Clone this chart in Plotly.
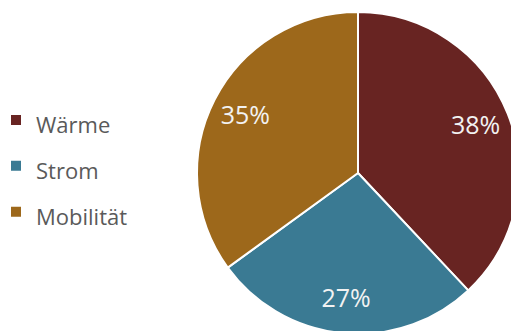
import plotly.graph_objects as go

labels = ["Wärme", "Strom", "Mobilität"]
values = [38, 27, 35]
colors = ["#682422", "#3a7a93", "#9d681b"]

W, H = 530, 345
cx, cy, r = 358, 171, 161
dom = dict(x=[(cx - r) / W, (cx + r) / W], y=[(H - cy - r) / H, (H - cy + r) / H])
cy_pie = 173
dom_pie = dict(x=[(cx - r) / W, (cx + r) / W], y=[(H - cy_pie - r) / H, (H - cy_pie + r) / H])

fig = go.Figure()
fig.add_trace(go.Pie(
    labels=[f"<span style='font-size:22px'>{l}</span>" for l in labels],
    values=values,
    sort=False,
    direction="clockwise",
    rotation=0,
    marker=dict(colors=colors, line=dict(color="white", width=2)),
    textinfo="none",
    domain=dom_pie,
    hoverinfo="label+percent",
))
# transparent ring carrying the percentage labels near the outer edge
fig.add_trace(go.Pie(
    labels=labels,
    values=values,
    sort=False,
    direction="clockwise",
    rotation=0,
    hole=0.57,
    marker=dict(colors=["rgba(0,0,0,0)"] * 3, line=dict(width=0)),
    texttemplate="%{value}%",
    textposition="inside",
    insidetextorientation="horizontal",
    textfont=dict(size=25, color="#f2f2f2", family="Open Sans"),
    domain=dom,
    showlegend=False,
    hoverinfo="skip",
))

fig.update_layout(
    width=W, height=H, autosize=False,
    margin=dict(l=0, r=0, t=0, b=0, autoexpand=False),
    paper_bgcolor="white", plot_bgcolor="white",
    showlegend=True,
    legend=dict(
        x=-4 / W, y=(H - 166) / H, xanchor="left", yanchor="middle",
        font=dict(size=33, color="#5a5a5a", family="Open Sans"),
        bgcolor="rgba(0,0,0,0)",
        traceorder="normal",
    ),
)

fig.write_html("out.html", post_script="document.documentElement.style.overflow='hidden';document.body.style.overflow='hidden';document.body.style.margin='0';")
